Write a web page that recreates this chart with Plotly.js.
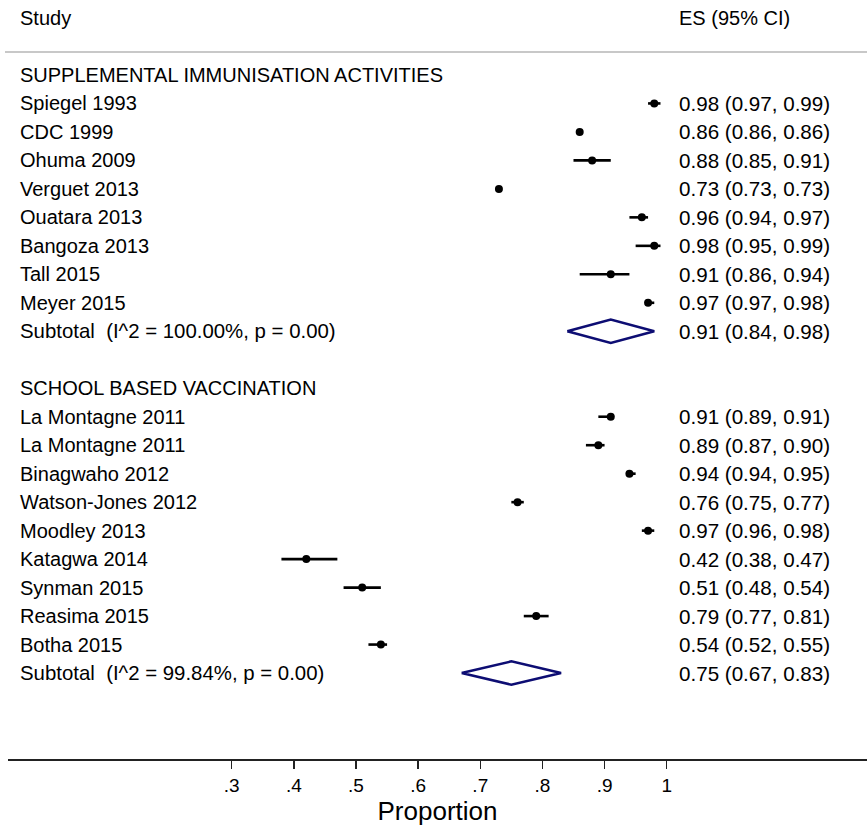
<!DOCTYPE html>
<html>
<head>
<meta charset="utf-8">
<script src="https://cdn.plot.ly/plotly-3.0.1.min.js"></script>
<style>html,body{margin:0;padding:0;background:#fff;}#chart{width:867px;height:826px;}</style>
</head>
<body>
<div id="chart"></div>
<script>
// ---- data ----
const groupNames = ["SUPPLEMENTAL IMMUNISATION ACTIVITIES", "SCHOOL BASED VACCINATION"];
const studiesSIA = ["Spiegel 1993", "CDC 1999", "Ohuma 2009", "Verguet 2013", "Ouatara 2013", "Bangoza 2013", "Tall 2015", "Meyer 2015"];
const esSIA = [0.98, 0.86, 0.88, 0.73, 0.96, 0.98, 0.91, 0.97];
const loSIA = [0.97, 0.86, 0.85, 0.73, 0.94, 0.95, 0.86, 0.97];
const hiSIA = [0.99, 0.86, 0.91, 0.73, 0.97, 0.99, 0.94, 0.98];
const subSIA = {label: "Subtotal  (I^2 = 100.00%, p = 0.00)", es: 0.91, lo: 0.84, hi: 0.98};

const studiesSBV = ["La Montagne 2011", "La Montagne 2011", "Binagwaho 2012", "Watson-Jones 2012", "Moodley 2013", "Katagwa 2014", "Synman 2015", "Reasima 2015", "Botha 2015"];
const esSBV = [0.91, 0.89, 0.94, 0.76, 0.97, 0.42, 0.51, 0.79, 0.54];
const loSBV = [0.89, 0.87, 0.94, 0.75, 0.96, 0.38, 0.48, 0.77, 0.52];
const hiSBV = [0.91, 0.90, 0.95, 0.77, 0.98, 0.47, 0.54, 0.81, 0.55];
const subSBV = {label: "Subtotal  (I^2 = 99.84%, p = 0.00)", es: 0.75, lo: 0.67, hi: 0.83};

const tickVals = [0.3, 0.4, 0.5, 0.6, 0.7, 0.8, 0.9, 1.0];
const tickText = [".3", ".4", ".5", ".6", ".7", ".8", ".9", "1"];

// ---- layout helpers ----
const FONT = "Liberation Sans, Arial, sans-serif";
const fmt = v => v.toFixed(2);
const W = 867, H = 826, ML = 8, MB = 67;
const plotW = W - ML;
const PX0 = 45.3, PXU = 621.4;            // pixel of x=0 and pixels per unit
const xr = [(ML - PX0) / PXU, (W - PX0) / PXU];
const rowPx = 28.48, row0 = 18;
const plotH = H - MB;
const yr = [(plotH - row0) / rowPx, (0 - row0) / rowPx];
const pxToPaper = p => (p - ML) / plotW;

const annotations = [];
const shapes = [];
const traces = [];
function txt(x, y, s, size) {
  annotations.push({xref: 'paper', yref: 'y', x: x, y: y, text: s, showarrow: false,
    xanchor: 'left', yanchor: 'middle', font: {family: FONT, size: size || 20, color: '#000'}});
}
const leftX = pxToPaper(18), rightX = pxToPaper(677);
const RS = 20.6;

txt(leftX, 0, "Study");
txt(rightX, 0, "ES (95% CI)");
shapes.push({type: 'line', xref: 'paper', yref: 'y', x0: pxToPaper(5), x1: 1, y0: 1.194, y1: 1.194,
  line: {color: '#c8c8c8', width: 2}});

function addGroup(name, studies, es, lo, hi, sub, startRow) {
  let r = startRow;
  txt(leftX, r, name);
  r++;
  const ys = [];
  for (let i = 0; i < studies.length; i++) {
    txt(leftX, r, studies[i]);
    txt(rightX, r, fmt(es[i]) + " (" + fmt(lo[i]) + ", " + fmt(hi[i]) + ")", RS);
    ys.push(r);
    r++;
  }
  traces.push({type: 'scatter', mode: 'markers', x: es, y: ys,
    marker: {color: '#000', size: 8, symbol: 'circle'},
    error_x: {type: 'data', symmetric: false,
      array: es.map((v, i) => hi[i] - v), arrayminus: es.map((v, i) => v - lo[i]),
      color: '#000', thickness: 2.6, width: 0},
    hoverinfo: 'skip', showlegend: false, cliponaxis: false});
  txt(leftX, r, sub.label, 20.4);
  txt(rightX, r, fmt(sub.es) + " (" + fmt(sub.lo) + ", " + fmt(sub.hi) + ")", RS);
  const h = 0.41;
  traces.push({type: 'scatter', mode: 'lines',
    x: [sub.lo, sub.es, sub.hi, sub.es, sub.lo],
    y: [r, r - h, r, r + h, r],
    line: {color: '#0d0d73', width: 2.5}, hoverinfo: 'skip', showlegend: false});
  return r + 1;
}
let next = addGroup(groupNames[0], studiesSIA, esSIA, loSIA, hiSIA, subSIA, 2);
next = addGroup(groupNames[1], studiesSBV, esSBV, loSBV, hiSBV, subSBV, next + 1);

const layout = {
  width: W, height: H,
  margin: {l: ML, r: 0, t: 0, b: MB, pad: 0},
  paper_bgcolor: '#fff', plot_bgcolor: '#fff',
  showlegend: false,
  xaxis: {range: xr, showgrid: false, zeroline: false, showline: true, linecolor: '#222', linewidth: 2,
    ticks: 'outside', ticklen: 8, tickwidth: 1.5, tickcolor: '#222',
    tickmode: 'array', tickvals: tickVals, ticktext: tickText,
    tickfont: {family: FONT, size: 19, color: '#000'},
    title: {text: 'Proportion', font: {family: FONT, size: 26, color: '#000'}, standoff: 0},
    fixedrange: true},
  yaxis: {range: yr, visible: false, showgrid: false, zeroline: false, fixedrange: true},
  annotations: annotations,
  shapes: shapes
};
Plotly.newPlot('chart', traces, layout, {displayModeBar: false, staticPlot: true});
</script>
</body>
</html>
